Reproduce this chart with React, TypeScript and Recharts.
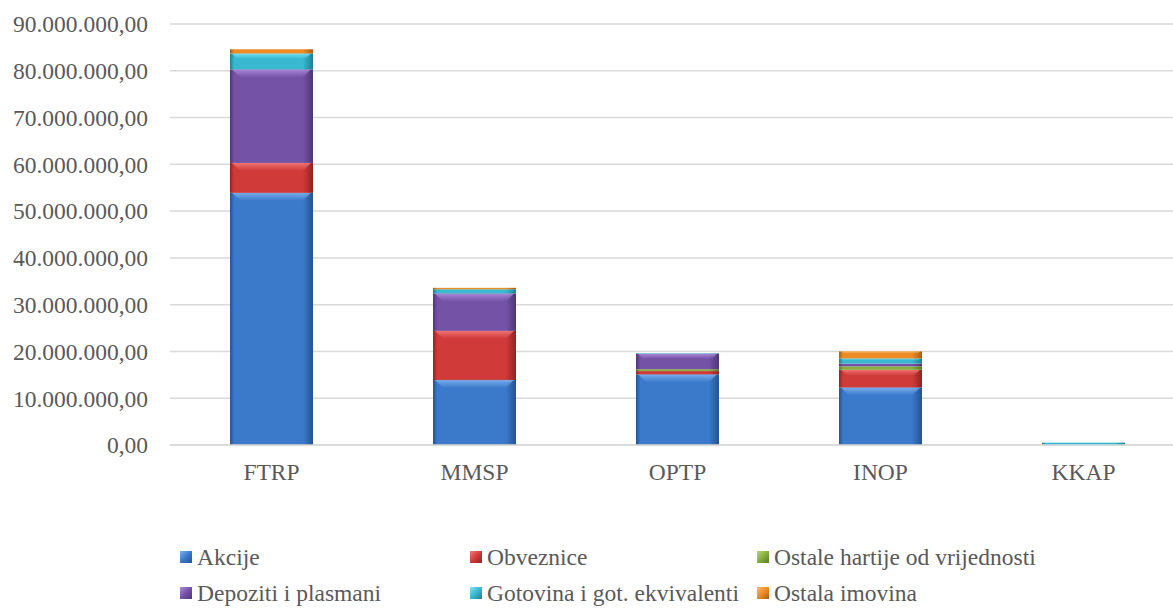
import { BarChart, Bar, XAxis, YAxis, CartesianGrid } from 'recharts';

const categories = ['FTRP', 'MMSP', 'OPTP', 'INOP', 'KKAP'];

const akcije = [53900000, 13900000, 15100000, 12300000, 0];
const obveznice = [6400000, 10500000, 700000, 3800000, 0];
const ostaleHartije = [0, 0, 400000, 700000, 0];
const depoziti = [20000000, 8000000, 3300000, 600000, 0];
const gotovina = [3400000, 900000, 100000, 1100000, 500000];
const ostalaImovina = [900000, 300000, 0, 1500000, 0];

const yTicks = [0, 10000000, 20000000, 30000000, 40000000, 50000000, 60000000, 70000000, 80000000, 90000000];

const series = [
  { key: 'akcije', name: 'Akcije', values: akcije, color: '#3b79cb', light: '#7fb2ee', dark: '#245391' },
  { key: 'obveznice', name: 'Obveznice', values: obveznice, color: '#d03a39', light: '#f27a78', dark: '#8f2423' },
  { key: 'ostaleHartije', name: 'Ostale hartije od vrijednosti', values: ostaleHartije, color: '#86ae3c', light: '#b9da74', dark: '#5b7a25' },
  { key: 'depoziti', name: 'Depoziti i plasmani', values: depoziti, color: '#7452a6', light: '#ad8ddc', dark: '#4e3675' },
  { key: 'gotovina', name: 'Gotovina i got. ekvivalenti', values: gotovina, color: '#38b9d0', light: '#7fe3f2', dark: '#1f7f91' },
  { key: 'ostalaImovina', name: 'Ostala imovina', values: ostalaImovina, color: '#ee8b25', light: '#f8bb6e', dark: '#a85d12' },
];

// legend is laid out as a 3-column grid, same order as the stack
const legendOrder = ['akcije', 'obveznice', 'ostaleHartije', 'depoziti', 'gotovina', 'ostalaImovina'];

const data = categories.map((name, i) => {
  const row: Record<string, string | number> = { name };
  series.forEach(s => { row[s.key] = s.values[i]; });
  return row;
});

const FONT = '"Liberation Serif"';
const TEXT = '#595959';
const FS = 23.5;

const fmt = (v: number) => {
  const int = Math.round(v).toString().replace(/\B(?=(\d{3})+(?!\d))/g, '.');
  return `${int},00`;
};

function BevelBar(props: any) {
  const { x, y, width, height, id } = props;
  if (!height || height <= 0) return null;
  const bevel = Math.min(8, height / 3);
  return (
    <g>
      <rect x={x} y={y} width={width} height={height} fill={`url(#grad-${id})`} />
      {height > 5 && (
        <polygon
          points={`${x + 2},${y} ${x + width - 2},${y} ${x + width - bevel - 2},${y + bevel} ${x + bevel + 2},${y + bevel}`}
          fill={`url(#top-${id})`}
        />
      )}
    </g>
  );
}

function LegendBox() {
  const cols = [180, 470, 757];
  const rows = [557, 593];
  return (
    <div style={{ position: 'absolute', left: 0, top: 0, width: 1173, height: 610, pointerEvents: 'none' }}>
      {legendOrder.map((k, i) => {
        const s = series.find(x => x.key === k)!;
        const left = cols[i % 3];
        const top = rows[Math.floor(i / 3)];
        return (
          <div
            key={k}
            style={{
              position: 'absolute', left, top: top - 14, height: 28, lineHeight: '28px',
              display: 'flex', alignItems: 'center', fontFamily: FONT, fontSize: FS, color: TEXT, whiteSpace: 'nowrap',
            }}
          >
            <span
              style={{
                display: 'inline-block', width: 12, height: 12, marginRight: 5,
                background: `linear-gradient(135deg, ${s.light}, ${s.color} 50%, ${s.dark})`,
              }}
            />
            {s.name}
          </div>
        );
      })}
    </div>
  );
}

export default function App() {
  return (
    <div style={{ position: 'fixed', left: 0, top: 0, width: 1173, height: 610, overflow: 'hidden', background: '#fff' }}>
      <BarChart
        width={1190}
        height={610}
        data={data}
        margin={{ top: 24, right: 5, bottom: 135, left: 0 }}
        barSize={83}
      >
        <defs>
          {series.map(s => (
            <linearGradient key={s.key} id={`grad-${s.key}`} x1="0" y1="0" x2="1" y2="0">
              <stop offset="0%" stopColor={s.dark} />
              <stop offset="5%" stopColor={s.color} />
              <stop offset="88%" stopColor={s.color} />
              <stop offset="100%" stopColor={s.dark} />
            </linearGradient>
          ))}
          {series.map(s => (
            <linearGradient key={`t-${s.key}`} id={`top-${s.key}`} x1="0" y1="0" x2="0" y2="1">
              <stop offset="0%" stopColor={s.light} stopOpacity={0.9} />
              <stop offset="100%" stopColor={s.light} stopOpacity={0} />
            </linearGradient>
          ))}
        </defs>
        <CartesianGrid vertical={false} stroke="#d9d9d9" strokeWidth={1.5} />
        <XAxis
          dataKey="name"
          axisLine={{ stroke: '#d9d9d9', strokeWidth: 1.5 }}
          tickLine={false}
          tickSize={0}
          tickMargin={18}
          height={30}
          tick={{ fill: TEXT, fontFamily: FONT, fontSize: FS }}
        />
        <YAxis
          width={170}
          domain={[0, 90000000]}
          ticks={yTicks}
          interval={0}
          axisLine={false}
          tickLine={false}
          tickSize={0}
          tickMargin={22}
          tickFormatter={fmt}
          tick={{ fill: TEXT, fontFamily: FONT, fontSize: FS }}
        />
        {series.map(s => (
          <Bar
            key={s.key}
            dataKey={s.key}
            name={s.name}
            stackId="a"
            fill={s.color}
            isAnimationActive={false}
            shape={(p: any) => <BevelBar {...p} id={s.key} />}
          />
        ))}
      </BarChart>
      <LegendBox />
    </div>
  );
}
